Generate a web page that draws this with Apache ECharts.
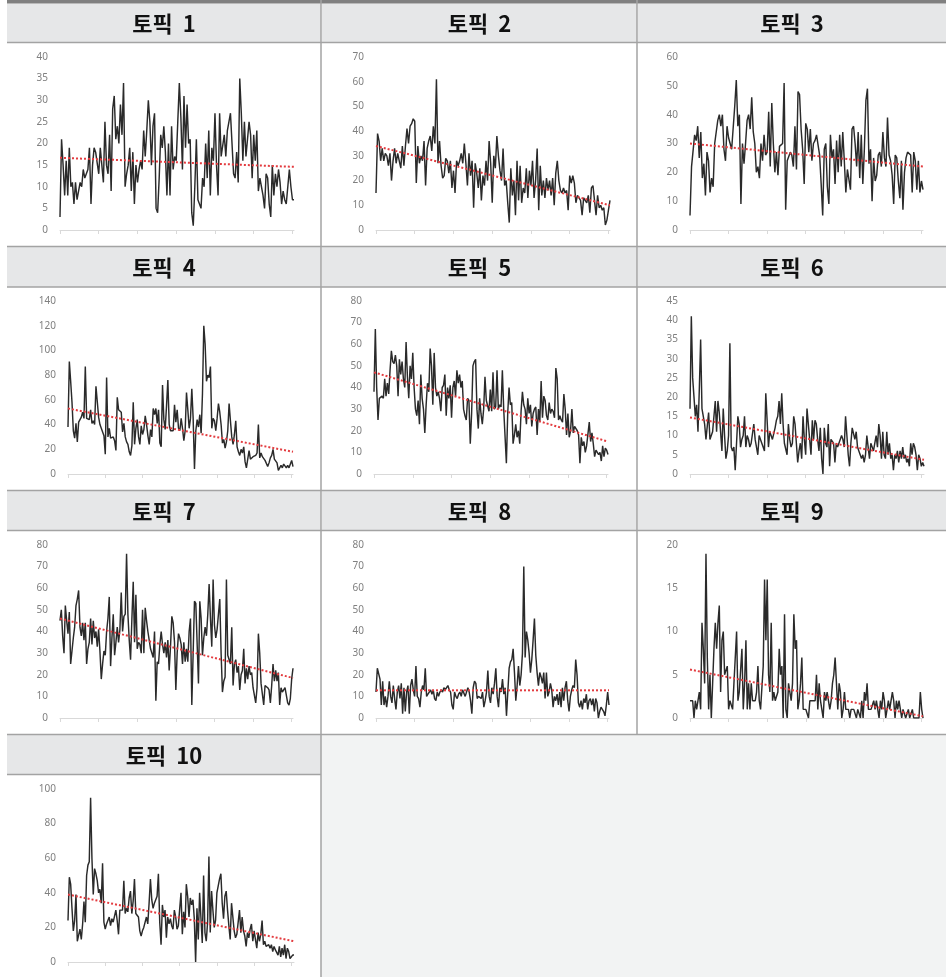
<!DOCTYPE html>
<html>
<head>
<meta charset="utf-8">
<script src="https://cdn.jsdelivr.net/npm/echarts@6/dist/echarts.min.js"></script>
<style>
html,body{margin:0;padding:0;background:#ffffff;}
#chart{width:946px;height:977px;}
</style>
</head>
<body>
<div id="chart"></div>
<script>
// Monthly document counts per topic
const topic1 = [3,21,15,8,16,8,19,10,11,6,11,7,7,11,10,14,12,12,14,19,6,15,19,18,18,
13,19,15,11,25,15,13,22,9,28,31,21,24,20,29,22,34,10,13,15,19,9,18,6,15,
11,14,16,14,23,17,23,30,25,15,24,27,5,4,12,22,19,24,18,8,20,8,24,14,17,
16,25,34,26,14,31,19,29,20,21,4,1,10,21,7,7,5,12,10,20,12,23,8,19,16,
27,15,8,27,17,17,22,17,23,25,27,20,13,12,18,11,35,27,16,25,17,17,25,22,12,
22,16,23,9,12,10,8,5,13,12,6,3,15,8,13,10,14,11,6,9,7,6,6,14,10,7,7];

const topic2 = [15,39,36,28,33,28,31,30,26,31,20,28,33,27,31,28,25,34,26,34,41,35,42,43,45,
44,19,34,27,30,28,36,18,33,36,38,32,42,35,61,27,36,26,21,22,29,28,23,28,17,
24,15,28,26,28,31,27,35,27,18,31,22,28,9,27,23,17,25,12,22,18,28,20,36,27,
11,30,25,38,30,24,20,33,18,20,11,3,25,14,20,6,28,12,26,11,17,15,25,13,24,
18,28,13,20,33,8,26,14,20,13,21,16,20,14,21,10,23,28,20,16,15,17,15,16,8,
22,19,22,19,11,14,13,12,6,13,12,11,14,7,17,18,12,6,14,9,10,8,9,2,4,8,12];

const topic3 = [5,22,22,33,31,36,25,34,18,23,12,27,24,13,18,15,30,30,38,40,
36,40,28,24,36,32,32,28,28,43,52,36,40,9,30,23,30,38,40,35,
46,34,30,20,22,18,30,24,33,26,27,41,22,44,30,20,27,19,29,29,
30,51,7,24,24,27,26,22,36,21,48,47,35,28,16,37,35,27,35,24,
30,31,33,33,26,16,5,28,30,15,9,33,25,28,16,31,20,33,22,34,
24,13,21,21,14,35,36,30,22,34,18,33,16,28,45,49,23,28,10,25,
17,19,26,27,22,34,25,22,39,26,24,19,9,26,25,17,11,24,7,20,
25,27,27,26,13,27,24,14,24,13,17,14];

const topic4 = [38,91,75,58,35,29,41,26,42,44,46,50,45,87,45,45,44,52,41,43,40,71,71,46,40,
37,37,31,16,78,30,37,29,28,30,27,19,62,52,52,50,34,41,30,26,24,18,15,23,58,
24,37,44,30,24,39,32,36,47,40,31,24,36,30,53,48,53,41,52,25,22,72,44,36,55,
76,40,35,36,35,56,42,52,37,35,45,37,27,35,66,52,37,45,69,45,4,35,44,38,48,
33,65,120,105,75,80,78,87,37,45,43,35,45,57,50,40,25,28,21,26,35,57,43,30,24,
32,43,22,18,15,20,17,22,10,5,12,19,12,12,14,15,15,17,40,13,17,14,14,11,10,
6,9,13,15,20,12,11,9,3,4,7,5,8,9,5,7,5,5,11,6];

const topic5 = [38,67,40,25,35,35,36,35,44,36,42,37,48,57,52,51,55,50,36,53,46,52,44,40,61,
45,35,50,44,56,40,30,27,34,23,46,35,30,19,32,42,38,58,50,32,56,40,36,38,35,
29,40,41,46,27,40,35,41,26,40,43,36,48,42,46,40,43,30,27,25,35,34,14,28,50,
52,53,30,21,35,28,23,30,45,34,34,29,39,29,47,30,31,48,30,32,31,48,30,30,5,
28,40,32,33,14,18,23,17,20,14,29,38,32,30,23,35,28,32,22,28,30,31,18,30,24,
43,26,36,34,27,25,33,28,30,29,26,49,44,25,27,25,24,37,30,18,28,17,20,30,19,
22,22,20,18,5,17,13,15,10,13,13,24,15,19,14,8,11,11,9,10,6,13,8,12,11,9];

const topic6 = [17,41,25,20,15,18,11,22,35,17,15,13,9,9,16,9,10,11,11,19,11,19,16,11,6,
17,10,4,6,10,34,7,6,7,1,8,15,13,7,9,10,15,7,10,9,7,8,8,13,9,
9,5,10,9,8,7,6,21,14,7,11,10,9,9,12,14,15,19,13,21,13,8,8,5,13,
9,7,8,15,13,8,3,6,8,4,15,9,5,17,13,9,5,14,9,14,13,9,6,12,4,
0,12,8,7,13,2,9,9,8,3,8,7,8,9,10,9,7,15,10,5,2,8,12,12,9,
11,7,6,5,4,5,3,5,10,7,4,8,7,6,8,10,7,13,10,4,11,5,4,11,5,
8,4,5,1,5,4,6,3,6,4,7,4,5,3,4,2,8,5,8,7,5,1,5,4,2,3,2];

const topic7 = [45,50,38,30,52,45,39,49,25,31,37,42,52,55,59,42,38,44,36,44,25,32,35,46,34,
45,37,40,33,41,31,18,25,31,29,40,46,56,24,37,48,29,35,42,35,41,58,40,47,48,
76,48,36,27,46,63,35,57,32,35,34,30,50,30,51,45,40,40,32,30,28,40,8,26,25,
34,40,34,30,35,28,36,22,33,47,44,35,13,30,39,37,34,25,35,26,32,26,40,46,6,
30,54,53,53,16,54,46,29,37,42,38,48,62,46,33,64,43,37,41,48,55,30,12,17,19,
64,29,29,25,42,15,25,27,21,24,13,20,22,32,16,23,18,24,20,21,14,14,7,14,39,
30,16,11,6,15,15,14,13,7,15,25,17,22,17,21,6,14,12,12,14,14,7,6,9,18,23];

const topic8 = [12,23,23,18,6,17,6,10,5,10,17,10,7,15,9,4,12,15,9,16,2,14,3,12,15,
2,15,18,13,10,24,10,9,5,12,15,13,23,10,11,12,13,11,13,9,8,12,10,12,13,
12,14,13,14,15,13,12,6,4,12,10,9,11,12,10,13,13,10,10,14,12,8,2,14,17,
16,9,10,10,9,12,5,8,12,22,10,7,14,11,16,23,10,5,14,12,18,11,14,1,12,
23,26,27,32,21,8,15,24,15,20,30,70,28,40,36,30,21,27,36,46,29,21,15,21,19,
16,21,9,21,10,12,16,13,5,10,8,11,6,12,5,14,8,14,17,8,3,10,13,15,14,
27,20,7,5,8,4,9,7,11,4,8,9,6,9,3,9,7,0,3,5,4,3,1,6,12,6];

const topic9 = [2,2,2,0,2,1,2,3,1,11,8,4,19,7,1,5,0,4,8,11,8,11,13,3,9,
10,5,5,6,1,2,2,1,4,4,10,2,3,3,8,1,4,9,1,4,1,4,2,2,2,
3,6,2,1,1,6,16,9,16,5,3,11,2,3,2,2,3,8,5,6,0,12,1,0,4,
3,2,4,12,8,9,1,2,4,7,1,1,1,1,0,2,2,2,2,2,5,1,4,2,1,
0,3,2,3,3,1,2,4,5,7,4,1,4,3,0,1,3,1,1,1,0,1,1,1,1,
0,1,1,0,2,0,3,2,4,1,1,1,1,2,1,2,2,0,2,1,3,2,0,1,2,
1,2,3,2,0,2,1,2,2,0,1,1,0,0,1,0,0,1,0,0,0,0,0,3,1,0];

const topic10 = [24,49,45,31,18,24,39,12,13,19,13,22,35,23,50,56,58,95,60,39,54,51,47,40,42,
34,57,23,19,22,21,26,21,25,23,23,30,24,16,30,30,30,47,28,31,29,37,41,28,35,
48,28,27,26,18,15,18,20,20,26,22,34,48,36,31,34,35,38,51,23,10,33,26,30,14,
26,22,25,21,19,30,26,19,21,20,40,16,29,20,45,38,26,37,33,36,25,0,31,13,40,
40,11,50,17,12,23,61,17,41,30,20,24,40,41,48,51,34,25,38,41,30,21,13,34,34,
18,14,16,15,30,17,26,18,15,9,17,14,19,22,12,18,19,8,17,12,16,24,10,12,9,
9,10,8,10,6,9,7,8,4,9,3,8,4,10,2,8,6,2,3,4,4];

const topicTitles = ['토픽  1','토픽  2','토픽  3','토픽  4','토픽  5','토픽  6','토픽  7','토픽  8','토픽  9','토픽  10'];
const yMax  = [40, 70, 60, 140, 80, 45, 80, 80, 20, 100];
const yStep = [5, 10, 10, 20, 10, 5, 10, 10, 5, 20];
// Linear trend line: value at first and last month
const trendStart = [16.7, 34, 30, 53, 47, 14.7, 46, 12.8, 5.6, 39];
const trendEnd   = [14.6, 10, 22, 18, 15, 3.7, 18.5, 12.8, 0.2, 12];

const series = [topic1, topic2, topic3, topic4, topic5, topic6, topic7, topic8, topic9, topic10];

// ---- page layout (pixels) ----
const colSpan   = [[7, 321], [322, 637], [638, 946]];
const headTop   = [3.5, 247, 491, 735];
const headBot   = [42, 287, 530, 774];
const gridTop   = [57, 301, 545, 789];
const gridH     = 173;
const plotLeft  = [60, 376, 690, 68, 374, 690, 60, 376, 690, 68];
const plotRight = [294, 610, 923, 293, 608, 924, 293, 609, 923, 294];

const BORDER = '#a3a3a3';
const HEAD_BG = '#e6e7e8';

const grids = [], xAxes = [], yAxes = [], seriesOpt = [], graphics = [];

series.forEach((vals, i) => {
  const row = Math.floor(i / 3), col = i % 3;
  const n = vals.length;
  const step = Math.floor((n - 1) / 6);
  const cats = vals.map((_, k) => String(k + 1));

  grids.push({ left: plotLeft[i], top: gridTop[row], width: plotRight[i] - plotLeft[i], height: gridH, containLabel: false });

  xAxes.push({
    gridIndex: i, type: 'category', data: cats, boundaryGap: false,
    axisLine: { show: true, lineStyle: { color: '#d9d9d9', width: 1 } },
    axisTick: { show: true, length: 4, interval: (idx) => idx % step === 0, lineStyle: { color: '#d9d9d9' } },
    axisLabel: { show: false }, splitLine: { show: false }
  });

  yAxes.push({
    gridIndex: i, type: 'value', min: 0, max: yMax[i], interval: yStep[i],
    axisLine: { show: false }, axisTick: { show: false }, splitLine: { show: false },
    axisLabel: { color: '#808080', fontSize: 10, margin: 12, fontFamily: 'Noto Sans' }
  });

  seriesOpt.push({
    type: 'line', xAxisIndex: i, yAxisIndex: i, data: vals,
    symbol: 'none', lineStyle: { color: '#2a2a2a', width: 1.45 }, z: 2
  });

  seriesOpt.push({
    type: 'line', xAxisIndex: i, yAxisIndex: i,
    data: [[0, trendStart[i]], [n - 1, trendEnd[i]]],
    symbol: 'none', lineStyle: { color: '#e33b3f', width: 2, type: [2, 2] }, z: 3
  });

  // header band and title
  const hx0 = colSpan[col][0], hx1 = colSpan[col][1];
  graphics.push({
    type: 'rect', shape: { x: hx0, y: headTop[row], width: hx1 - hx0, height: headBot[row] - headTop[row] },
    style: { fill: HEAD_BG }, silent: true, z: 0
  });
  graphics.push({
    type: 'text', x: (hx0 + hx1) / 2, y: (headTop[row] + headBot[row]) / 2 + 1,
    style: { text: topicTitles[i], fill: '#111111', fontSize: 22, fontWeight: 'bold',
             fontFamily: '"Noto Sans CJK KR", "Noto Sans", sans-serif', align: 'center', verticalAlign: 'middle' },
    silent: true, z: 5
  });
});

// empty cell area at the bottom right
graphics.push({ type: 'rect', shape: { x: 321, y: 734, width: 625, height: 243 }, style: { fill: '#f2f3f3' }, silent: true, z: 0 });

// table rules
const hline = (x0, x1, y, w, c) => graphics.push({ type: 'line', shape: { x1: x0, y1: y, x2: x1, y2: y }, style: { stroke: c, lineWidth: w }, silent: true, z: 6 });
const vline = (x, y0, y1, w, c) => graphics.push({ type: 'line', shape: { x1: x, y1: y0, x2: x, y2: y1 }, style: { stroke: c, lineWidth: w }, silent: true, z: 6 });

hline(7, 946, 1.75, 3.5, '#808080');
hline(7, 946, 42.5, 1.5, BORDER);
hline(7, 946, 246.5, 1.5, BORDER);
hline(7, 946, 287, 1.5, BORDER);
hline(7, 946, 490.5, 1.5, BORDER);
hline(7, 946, 530.5, 1.5, BORDER);
hline(7, 946, 734.5, 1.5, BORDER);
hline(7, 321, 774.5, 1.5, BORDER);
vline(321, 0, 977, 1.5, BORDER);
vline(637, 0, 734.5, 1.5, BORDER);

const chart = echarts.init(document.getElementById('chart'), null, { renderer: 'canvas' });
chart.setOption({
  animation: false,
  backgroundColor: '#ffffff',
  grid: grids, xAxis: xAxes, yAxis: yAxes, series: seriesOpt,
  graphic: { elements: graphics }
});
</script>
</body>
</html>
